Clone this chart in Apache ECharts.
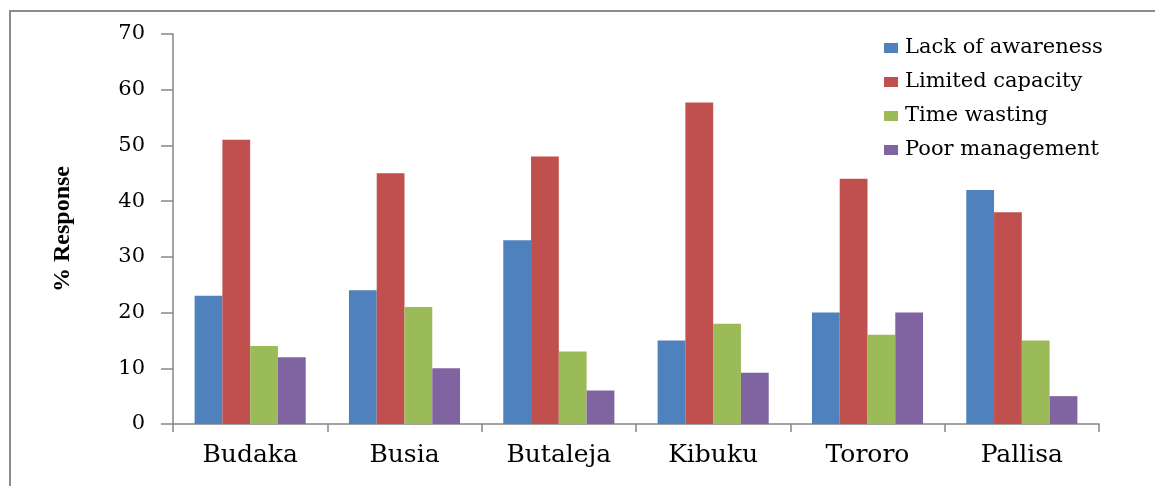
<!DOCTYPE html>
<html>
<head>
<meta charset="utf-8">
<script src="https://cdn.jsdelivr.net/npm/echarts@6/dist/echarts.min.js"></script>
<style>
  html, body { margin: 0; padding: 0; background: #fff; }
  #chart { width: 1155px; height: 486px; }
</style>
</head>
<body>
<div id="chart"></div>
<script>
// Districts along the x axis
const districts = ['Budaka', 'Busia', 'Butaleja', 'Kibuku', 'Tororo', 'Pallisa'];

// % response per constraint, one array per series
const lackOfAwareness = [23, 24, 33, 15, 20, 42];
const limitedCapacity = [51, 45, 48, 57.7, 44, 38];
const timeWasting = [14, 21, 13, 18, 16, 15];
const poorManagement = [12, 10, 6, 9.2, 20, 5];

const seriesNames = ['Lack of awareness', 'Limited capacity', 'Time wasting', 'Poor management'];
const seriesValues = [lackOfAwareness, limitedCapacity, timeWasting, poorManagement];
const seriesColors = ['#4F81BD', '#C0504D', '#9BBB59', '#8064A2'];

// Y axis range
const yMin = 0, yMax = 70, yStep = 10;

const serif = '"DejaVu Serif", "Liberation Serif", serif';
const axisGray = '#868686';

const chart = echarts.init(document.getElementById('chart'), null, { renderer: 'canvas' });

chart.setOption({
  animation: false,
  backgroundColor: '#fff',
  graphic: [{
    type: 'polyline',
    shape: { points: [[10, 486], [10, 11], [1155, 11]] },
    style: { stroke: '#8c8c8c', lineWidth: 2, fill: null },
    silent: true
  }],
  grid: { left: 173, right: 56, top: 34, bottom: 62, containLabel: false },
  legend: {
    orient: 'vertical',
    left: 879,
    top: 32,
    itemWidth: 14,
    itemHeight: 10,
    itemGap: 12,
    icon: 'rect',
    textStyle: { fontFamily: serif, fontSize: 21, lineHeight: 22, color: '#000', padding: [0, 0, 0, 2] },
    data: seriesNames
  },
  xAxis: {
    type: 'category',
    data: districts,
    axisLine: { lineStyle: { color: axisGray, width: 1.5 } },
    axisTick: { show: true, length: 8, lineStyle: { color: axisGray, width: 1.5 } },
    axisLabel: { fontFamily: serif, fontSize: 25, color: '#000', margin: 19 }
  },
  yAxis: {
    type: 'value',
    min: yMin,
    max: yMax,
    interval: yStep,
    name: '% Response',
    nameLocation: 'middle',
    nameGap: 98,
    nameRotate: 90,
    nameTextStyle: { fontFamily: '"Liberation Serif", serif', fontWeight: 'bold', fontSize: 24, color: '#000' },
    splitLine: { show: false },
    axisLine: { show: true, lineStyle: { color: axisGray, width: 1.5 } },
    axisTick: { show: true, length: 12, lineStyle: { color: axisGray, width: 1.5 } },
    axisLabel: { fontFamily: serif, fontSize: 21, color: '#000', margin: 28 }
  },
  series: seriesNames.map((name, i) => ({
    name: name,
    type: 'bar',
    data: seriesValues[i],
    barGap: '0%',
    barCategoryGap: '28%',
    itemStyle: { color: seriesColors[i] }
  }))
});
</script>
</body>
</html>
